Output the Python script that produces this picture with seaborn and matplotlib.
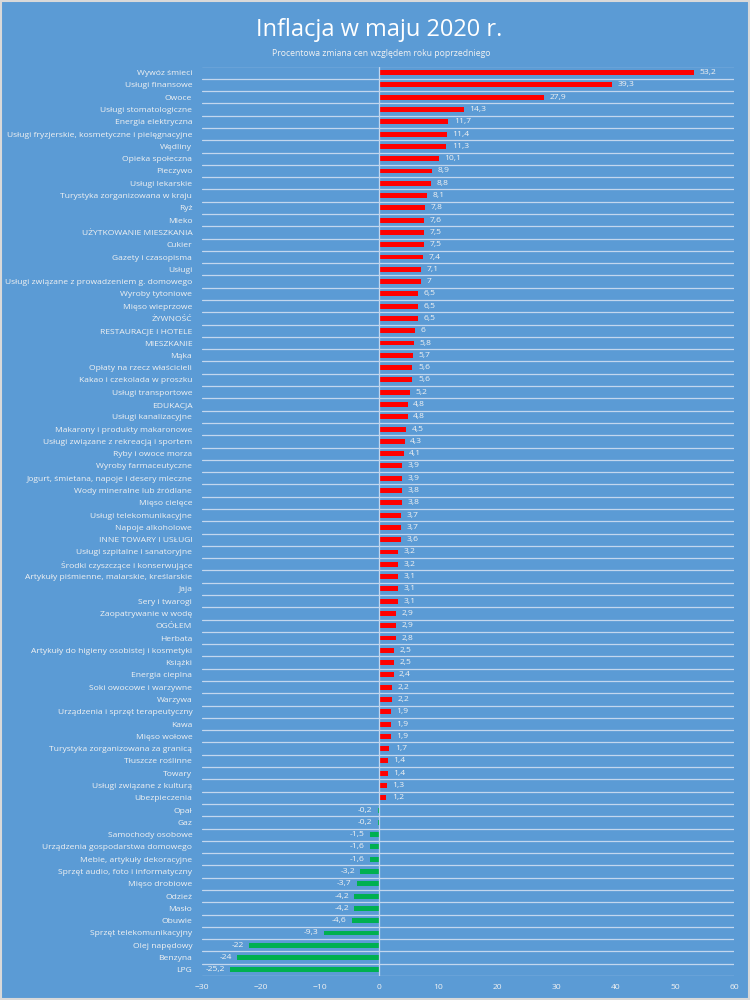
import numpy as np
import pandas as pd
import matplotlib
matplotlib.use("Agg")
import matplotlib.pyplot as plt
import seaborn as sns

# --- data ---
categories = [
    "Wywóz śmieci", "Usługi finansowe", "Owoce", "Usługi stomatologiczne",
    "Energia elektryczna", "Usługi fryzjerskie, kosmetyczne i pielęgnacyjne",
    "Wędliny", "Opieka społeczna", "Pieczywo", "Usługi lekarskie",
    "Turystyka zorganizowana w kraju", "Ryż", "Mleko", "UŻYTKOWANIE MIESZKANIA",
    "Cukier", "Gazety i czasopisma", "Usługi",
    "Usługi związane z prowadzeniem g. domowego", "Wyroby tytoniowe",
    "Mięso wieprzowe", "ŻYWNOŚĆ", "RESTAURACJE I HOTELE", "MIESZKANIE", "Mąka",
    "Opłaty na rzecz właścicieli", "Kakao i czekolada w proszku",
    "Usługi transportowe", "EDUKACJA", "Usługi kanalizacyjne",
    "Makarony i produkty makaronowe", "Usługi związane z rekreacją i sportem",
    "Ryby i owoce morza", "Wyroby farmaceutyczne",
    "Jogurt, śmietana, napoje i desery mleczne", "Wody mineralne lub źródlane",
    "Mięso cielęce", "Usługi telekomunikacyjne", "Napoje alkoholowe",
    "INNE TOWARY I USŁUGI", "Usługi szpitalne i sanatoryjne",
    "Środki czyszczące i konserwujące",
    "Artykuły piśmienne, malarskie, kreślarskie", "Jaja", "Sery i twarogi",
    "Zaopatrywanie w wodę", "OGÓŁEM", "Herbata",
    "Artykuły do higieny osobistej i kosmetyki", "Książki", "Energia cieplna",
    "Soki owocowe i warzywne", "Warzywa", "Urządzenia i sprzęt terapeutyczny",
    "Kawa", "Mięso wołowe", "Turystyka zorganizowana za granicą",
    "Tłuszcze roślinne", "Towary", "Usługi związane z kulturą", "Ubezpieczenia",
    "Opał", "Gaz", "Samochody osobowe", "Urządzenia gospodarstwa domowego",
    "Meble, artykuły dekoracyjne", "Sprzęt audio, foto i informatyczny",
    "Mięso drobiowe", "Odzież", "Masło", "Obuwie", "Sprzęt telekomunikacyjny",
    "Olej napędowy", "Benzyna", "LPG",
]
values = [
    53.2, 39.3, 27.9, 14.3, 11.7, 11.4, 11.3, 10.1, 8.9, 8.8,
    8.1, 7.8, 7.6, 7.5, 7.5, 7.4, 7.1, 7.0, 6.5, 6.5,
    6.5, 6.0, 5.8, 5.7, 5.6, 5.6, 5.2, 4.8, 4.8, 4.5,
    4.3, 4.1, 3.9, 3.9, 3.8, 3.8, 3.7, 3.7, 3.6, 3.2,
    3.2, 3.1, 3.1, 3.1, 2.9, 2.9, 2.8, 2.5, 2.5, 2.4,
    2.2, 2.2, 1.9, 1.9, 1.9, 1.7, 1.4, 1.4, 1.3, 1.2,
    -0.2, -0.2, -1.5, -1.6, -1.6, -3.2, -3.7, -4.2, -4.2, -4.6,
    -9.3, -22.0, -24.0, -25.2,
]
x_ticks = [-30, -20, -10, 0, 10, 20, 30, 40, 50, 60]

title = "Inflacja w maju 2020 r."
subtitle = "Procentowa zmiana cen względem roku poprzedniego"

df = pd.DataFrame({"kategoria": categories, "zmiana": values})
df["znak"] = np.where(df["zmiana"] >= 0, "wzrost", "spadek")

# --- style ---
bg = "#5B9BD5"
txt = "#F2F2F2"
grid_c = "#C3D7EE"
sns.set_theme(style="white")
plt.rcParams["font.family"] = ["Open Sans", "DejaVu Sans"]

fig = plt.figure(figsize=(7.5, 10), dpi=100, facecolor=bg)
ax = fig.add_axes([0.2693, 0.024, 0.7094, 0.9095])
ax.set_facecolor(bg)

sns.barplot(data=df, y="kategoria", x="zmiana", hue="znak",
            palette={"wzrost": "#FF0000", "spadek": "#00B050"}, saturation=1,
            dodge=False, width=0.4, linewidth=0, legend=False, ax=ax, orient="h")

# value labels with Polish decimal comma
for cont in ax.containers:
    labs = [f"{b.get_width():g}".replace(".", ",") for b in cont]
    ax.bar_label(cont, labels=labs, padding=4, fontsize=6.1, color=txt)

n = len(categories)
ax.set_xlim(-30, 60)
ax.set_ylim(n - 0.5, -0.5)
ax.set_xticks(x_ticks)
ax.set_yticks(range(n))
ax.set_yticklabels(categories)
ax.set_yticks(np.arange(-0.5, n), minor=True)
ax.grid(which="minor", axis="y", color=grid_c, linewidth=0.9)
ax.grid(which="major", visible=False)
ax.axvline(0, color=grid_c, linewidth=0.9)
ax.set_xlabel("")
ax.set_ylabel("")
for s in ax.spines.values():
    s.set_visible(False)
ax.tick_params(axis="y", which="both", length=0, pad=7, labelsize=6.1, labelcolor=txt)
ax.tick_params(axis="x", which="both", length=0, pad=6, labelsize=6.1, labelcolor=txt)

fig.text(0.505, 0.970, title, ha="center", va="center", fontsize=17, color="white")
fig.text(0.509, 0.947, subtitle, ha="center", va="center", fontsize=6.2, color=txt)

fig.patches.append(plt.Rectangle((0.001, 0.001), 0.998, 0.998, transform=fig.transFigure,
                                 fill=False, edgecolor="#D9D9D9", linewidth=1.5))

fig.savefig("out.png", dpi=100, facecolor=bg)
